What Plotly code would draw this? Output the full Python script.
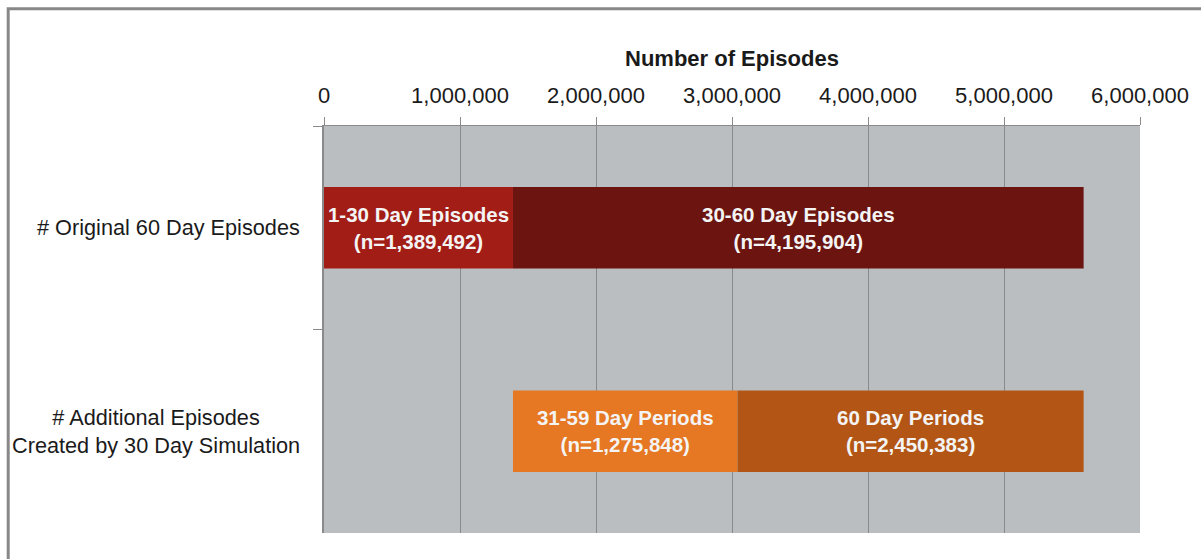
import plotly.graph_objects as go

# ---- data ----
categories = ["# Original 60 Day Episodes", "# Additional Episodes<br>Created by 30 Day Simulation"]
x_ticks = [0, 1000000, 2000000, 3000000, 4000000, 5000000, 6000000]

orig_segments = [1389492, 4195904]             # 1-30 day, 30-60 day
orig_labels = ["1-30 Day Episodes<br>(n=1,389,492)", "30-60 Day Episodes<br>(n=4,195,904)"]
orig_colors = ["#A31D17", "#6B1410"]

add_offset = 1389492                            # second bar starts here
add_segments = [1651000, 2545000]              # bar lengths as drawn
add_labels = ["31-59 Day Periods<br>(n=1,275,848)", "60 Day Periods<br>(n=2,450,383)"]
add_colors = ["#E67723", "#B35615"]

FONT = "Liberation Sans, Arial, sans-serif"

fig = go.Figure()


def add_stack(cat, start, segs, labels, colors):
    base = start
    for v, lab, c in zip(segs, labels, colors):
        fig.add_trace(go.Bar(
            y=[cat], x=[v], base=[base], orientation="h",
            marker=dict(color=c, line=dict(width=0)),
            text=["<b>" + lab + "</b>"], textposition="inside",
            insidetextanchor="middle", textangle=0,
            constraintext="none",
            textfont=dict(family=FONT, size=20.5, color="#F4F4F4"),
            hoverinfo="skip", showlegend=False,
        ))
        base += v


add_stack(categories[0], 0, orig_segments, orig_labels, orig_colors)
add_stack(categories[1], add_offset, add_segments, add_labels, add_colors)

fig.update_layout(
    width=1201, height=559,
    margin=dict(l=324, r=53, t=126, b=26),
    paper_bgcolor="white", plot_bgcolor="#BBBEC1",
    barmode="overlay", bargap=0.6,
    font=dict(family=FONT, size=22, color="#1A1A1A"),
    xaxis=dict(
        side="top", range=[0, 6000000], tickvals=x_ticks, tickformat=",",
        showgrid=True, gridcolor="#8A8A8A", gridwidth=1,
        ticks="outside", ticklen=8, tickcolor="#8A8A8A",
        showline=True, linecolor="#8A8A8A", linewidth=1,
        zeroline=False, ticklabelstandoff=5,
        tickfont=dict(family=FONT, size=22, color="#1A1A1A"),
        fixedrange=True,
    ),
    yaxis=dict(
        categoryorder="array", categoryarray=categories, autorange="reversed",
        showticklabels=False, ticks="outside", tickson="boundaries",
        ticklen=9, tickcolor="#8A8A8A",
        showline=True, linecolor="#8A8A8A", linewidth=2,
        showgrid=False, zeroline=False, fixedrange=True,
    ),
)

# category labels, centred lines
for cat in categories:
    fig.add_annotation(
        x=-0.027, xref="paper", y=cat, yref="y",
        xanchor="right", yanchor="middle", align="center",
        text=cat, showarrow=False,
        font=dict(family=FONT, size=21.7, color="#1A1A1A"),
    )

# axis title
fig.add_annotation(
    x=0.5, xref="paper", y=1.167, yref="paper",
    xanchor="center", yanchor="middle",
    text="<b>Number of Episodes</b>", showarrow=False,
    font=dict(family=FONT, size=22, color="#1A1A1A"),
)

# outer frame (left and top edges visible)
fig.add_shape(type="rect", xref="paper", yref="paper",
              x0=-0.387, x1=1.5, y0=-0.5, y1=1.288,
              line=dict(color="#888888", width=3), layer="below")

fig.write_html("out.html", config={"displayModeBar": False},
               post_script="document.body.style.margin='0';")
